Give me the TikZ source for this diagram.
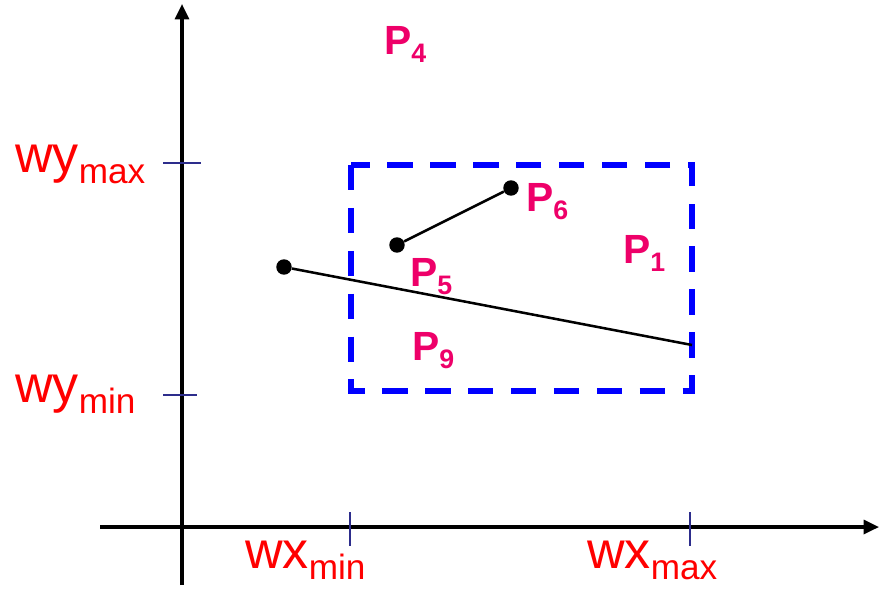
\documentclass[tikz,border=0pt]{standalone}
\usepackage{fontspec}
\setmainfont{Liberation Sans}
\usetikzlibrary{arrows.meta}

\definecolor{labred}{RGB}{255,0,0}
\definecolor{ptpink}{RGB}{238,0,105}
\definecolor{tickblue}{RGB}{45,45,140}

\newcommand{\wlbl}[2]{{\fontsize{37}{37}\selectfont #1}{\fontsize{25}{25}\selectfont\raisebox{-8pt}{#2}}}
\newcommand{\plbl}[2]{{\fontsize{29}{29}\selectfont\bfseries #1}{\fontsize{19}{19}\selectfont\bfseries\raisebox{-6pt}{#2}}}

\begin{document}
\begin{tikzpicture}[
            x=0.025cm, y=-0.025cm,
            axis/.style={line width=2.2pt, -{Triangle[length=11pt, width=10pt]}},
            tickmark/.style={tickblue, line width=1.5pt},
            window/.style={blue, line width=3.6pt, dash pattern=on 18pt off 12.5pt},
            seg/.style={line width=1.8pt},
            dot/.style={circle, fill, inner sep=0pt, minimum size=11pt},
            wlabel/.style={text=labred, anchor=base west, inner sep=0pt},
            plabel/.style={text=ptpink, anchor=base west, inner sep=0pt},
        ]
            \useasboundingbox (0,0) rectangle (879,588);

            %% Achsen
            \coordinate (xs) at (100,527);
            \coordinate (xe) at (879,527);
            \coordinate (ys) at (182,585);
            \coordinate (ye) at (182,4);
            \draw[axis] (xs) -- (xe);
            \draw[axis] (ys) -- (ye);

            %% Markierungen
            \draw[tickmark] (163,163) -- (201,163);
            \draw[tickmark] (163,395) -- (197,395);
            \draw[tickmark] (350,512) -- (350,546);
            \draw[tickmark] (690,512) -- (690,546);

            %% Fenster
            \draw[window] (351,165) rectangle (692,391);

            %% Strecken
            \node[dot] (p5) at (397,245) {};
            \node[dot] (p6) at (511,188) {};
            \node[dot] (a) at (284,267) {};
            \coordinate (b) at (692,345);
            \draw[seg] (p5) -- (p6);
            \draw[seg] (a) -- (b);

            %% Punkte
            \node[plabel] (l4) at (384,54)  {\plbl{P}{4}};
            \node[plabel] (l6) at (526,211) {\plbl{P}{6}};
            \node[plabel] (l1) at (623,263) {\plbl{P}{1}};
            \node[plabel] (l5) at (410,286) {\plbl{P}{5}};
            \node[plabel] (l9) at (412,360) {\plbl{P}{9}};

            %% Grenzen
            \node[wlabel] (wymax) at (15,172)  {\wlbl{wy}{max}};
            \node[wlabel] (wymin) at (15,402)  {\wlbl{wy}{min}};
            \node[wlabel] (wxmin) at (245,568) {\wlbl{wx}{min}};
            \node[wlabel] (wxmax) at (587,568) {\wlbl{wx}{max}};

        \end{tikzpicture}
\end{document}
